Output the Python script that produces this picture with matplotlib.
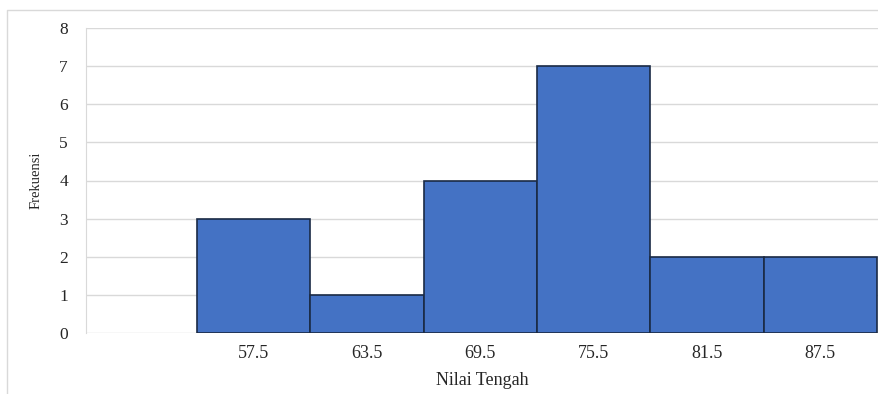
import numpy as np
import matplotlib.pyplot as plt
from matplotlib.lines import Line2D

# class midpoints and counts
nilai_tengah = [57.5, 63.5, 69.5, 75.5, 81.5, 87.5]
frekuensi = [3, 1, 4, 7, 2, 2]
lebar_kelas = 6

plt.rcParams['font.family'] = ['Liberation Serif', 'DejaVu Serif']

fig = plt.figure(figsize=(8.79, 3.94), dpi=100)
ax = fig.add_axes([86 / 879, 1 - 333 / 394, 792 / 879, 305 / 394])

ax.bar(nilai_tengah, frekuensi, width=lebar_kelas, color='#4472C4',
       edgecolor='#1a2a45', linewidth=1.2, zorder=3)

ax.set_xlim(48.62, 90.55)
ax.set_ylim(0, 8)
ax.set_yticks(np.arange(0, 9, 1))
ax.set_xticks(nilai_tengah)
ax.set_xticklabels([str(v) for v in nilai_tengah])

ax.grid(axis='y', color='#d9d9d9', linewidth=1, zorder=0)
for s in ['top', 'right', 'bottom']:
    ax.spines[s].set_visible(False)
ax.spines['left'].set_color('#d9d9d9')
ax.tick_params(axis='both', length=0, labelsize=13, colors='#262626')
ax.tick_params(axis='y', pad=13, labelsize=12.5)
ax.tick_params(axis='x', pad=9)

ax.set_xlabel('Nilai Tengah', fontsize=13, color='#262626', labelpad=7)
ax.set_ylabel('Frekuensi', fontsize=10.5, color='#262626', labelpad=12)

# chart area frame (left and top edges)
fig.add_artist(Line2D([7 / 879, 7 / 879, 1], [0, 1 - 10 / 394, 1 - 10 / 394],
                      transform=fig.transFigure, color='#d9d9d9', linewidth=1))

fig.savefig('out.png', dpi=100, facecolor='white')
